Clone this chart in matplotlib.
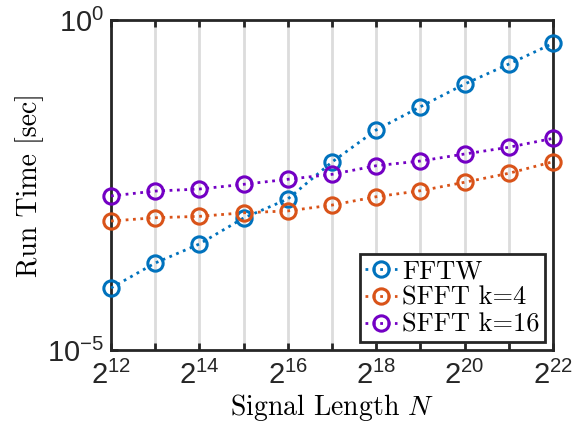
import matplotlib
matplotlib.use("Agg")
import matplotlib.pyplot as plt
from matplotlib.ticker import FixedLocator, NullLocator

plt.rcParams['mathtext.fontset'] = 'cm'
plt.rcParams['axes.unicode_minus'] = False

# signal lengths as powers of two
exponents = [12, 13, 14, 15, 16, 17, 18, 19, 20, 21, 22]
fftw = [8.7e-5, 2.08e-4, 4.04e-4, 1.0e-3, 1.94e-3, 7.05e-3, 2.16e-2, 4.85e-2, 0.107, 0.215, 0.443]
sfft_k4 = [9.0e-4, 1.01e-3, 1.06e-3, 1.20e-3, 1.28e-3, 1.57e-3, 2.10e-3, 2.59e-3, 3.48e-3, 4.76e-3, 7.13e-3]
sfft_k16 = [2.16e-3, 2.56e-3, 2.75e-3, 3.24e-3, 3.86e-3, 4.59e-3, 6.20e-3, 7.31e-3, 9.33e-3, 1.18e-2, 1.61e-2]
labels = ['FFTW', 'SFFT k=4', 'SFFT k=16']
colors = ['#0072BD', '#D95319', '#7300C4']

N = [2.0 ** e for e in exponents]

fig = plt.figure(figsize=(5.86, 4.34), dpi=100)
ax = fig.add_axes([0.1894, 0.1935, 0.7543, 0.7604])

for ys, lab, c in zip([fftw, sfft_k4, sfft_k16], labels, colors):
    ax.plot(N, ys, linestyle=':', linewidth=2, color=c, marker='o', markersize=11,
            markerfacecolor='none', markeredgewidth=2.2, label=lab, clip_on=False, zorder=3)

ax.set_xscale('log', base=2)
ax.set_yscale('log')
ax.set_xlim(N[0], N[-1])
ax.set_ylim(1e-5, 1)

ax.xaxis.set_major_locator(FixedLocator(N))
ax.xaxis.set_minor_locator(NullLocator())
ax.set_xticks(N)
ax.set_xticklabels([r'$\mathregular{2^{%d}}$' % e if e % 2 == 0 else '' for e in exponents])
ax.set_yticks([1e-5, 1])
ax.set_yticklabels([r'$\mathregular{10^{-5}}$', r'$\mathregular{10^{0}}$'])
ax.yaxis.set_minor_locator(NullLocator())

ax.grid(True, axis='x', color='#dcdcdc', linewidth=2, zorder=0)
ax.set_axisbelow(True)

for s in ax.spines.values():
    s.set_linewidth(2)
    s.set_color('#262626')
ax.tick_params(axis='both', which='major', direction='in', length=5, width=2,
               top=True, right=False, labelsize=21, colors='#262626', pad=5)
ax.tick_params(axis='x', pad=8)
for t in ax.get_xticklabels() + ax.get_yticklabels():
    t.set_fontfamily('Liberation Sans')
    t.set_color('#262626')

ax.set_xlabel(r'Signal Length $N$', fontsize=20, fontfamily='cmr10', labelpad=1)
ax.set_ylabel('Run Time [sec]', fontsize=20, fontfamily='cmr10', labelpad=2)

leg = ax.legend(loc='lower right', prop={'family': 'cmr10', 'size': 19},
                handlelength=1.2, handletextpad=0.2, borderpad=0.2, labelspacing=0.12,
                fancybox=False, framealpha=1, borderaxespad=0.3)
leg.get_frame().set_edgecolor('#262626')
leg.get_frame().set_linewidth(2)

fig.savefig('out.png', dpi=100)
